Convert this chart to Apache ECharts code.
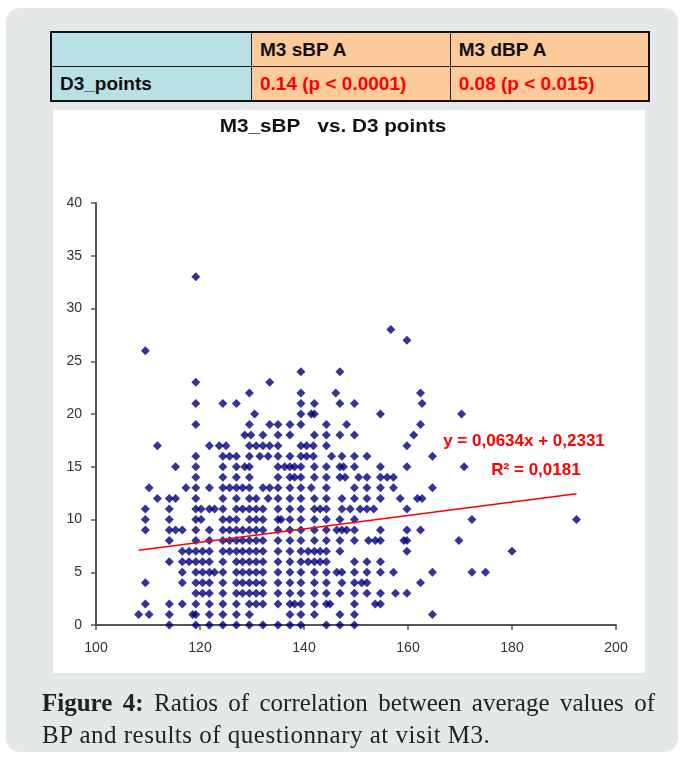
<!DOCTYPE html>
<html>
<head>
<meta charset="utf-8">
<script src="https://cdn.jsdelivr.net/npm/echarts@6/dist/echarts.min.js"></script>
<style>
  html, body { margin: 0; padding: 0; background: #fff; }
  body { width: 684px; height: 757px; position: relative; overflow: hidden; font-family: "Liberation Sans", Arial, sans-serif; }
  #panel { position: absolute; left: 6px; top: 8px; width: 672px; height: 744px; background: #e5e8e9; border-radius: 14px; }
  #tbl { position: absolute; left: 50px; top: 31px; width: 600px; border-collapse: collapse; border: 2px solid #111; table-layout: fixed; }
  #tbl td { border: 1.5px solid #222; font-weight: bold; font-size: 19px; padding: 0 0 0 8px; height: 33px; color: #111; white-space: nowrap; }
  #tbl .c1 { background: #b9e0e4; width: 191px; }
  #tbl .c2 { background: #fdca9a; }
  #tbl .red { color: #f00; }
  #box { position: absolute; left: 53px; top: 110px; width: 592px; height: 563px; background: #fff; }
  #chart { position: absolute; left: 0; top: 0; width: 684px; height: 757px; }
  .cap { position: absolute; left: 42px; width: 613px; font-family: "Liberation Serif", serif; font-size: 25px; letter-spacing: 0.5px; line-height: 32px; color: #222; white-space: nowrap; }
  #cap1 { top: 687px; text-align: justify; text-align-last: justify; letter-spacing: 0; }
  #cap2 { top: 719px; }
</style>
</head>
<body>
<div id="panel"></div>
<table id="tbl">
  <tr><td class="c1"></td><td class="c2">M3 sBP A</td><td class="c2">M3 dBP A</td></tr>
  <tr><td class="c1">D3_points</td><td class="c2 red">0.14 (p &lt; 0.0001)</td><td class="c2 red">0.08 (p &lt; 0.015)</td></tr>
</table>
<div id="box"></div>
<div id="chart"></div>
<div class="cap" id="cap1"><b>Figure 4:</b> Ratios of correlation between average values of</div>
<div class="cap" id="cap2">BP and results of questionnary at visit M3.</div>
<script>
var d3Rows = [33, 28, 27, 26, 24, 23, 22, 21, 20, 19, 18, 17, 16, 15, 14, 13, 12, 11, 10, 9, 8, 7, 6, 5, 4, 3, 2, 1, 0];
var sbpRows = [
    [119.2],
    [156.7],
    [159.8],
    [109.5],
    [139.4, 146.9],
    [119.2, 133.4],
    [129.5, 139.4, 146.1, 162.4],
    [119.2, 124.4, 127, 139.4, 142, 146.9, 149.7, 162.7],
    [130.5, 139.4, 141.4, 142, 154.7, 170.3],
    [119.2, 129.5, 133.4, 135, 137.3, 139.4, 144.3, 148.2, 162.4],
    [128.6, 129.8, 132.1, 135, 137.3, 142, 144.3, 146.9, 149.7, 161.1],
    [111.8, 121.8, 123.7, 125, 129.5, 130.8, 132.1, 133.4, 135, 139.4, 140.5, 141.8, 144.3, 159.8],
    [119.2, 124.4, 125.7, 127, 129.5, 131.5, 133.1, 135, 137.3, 139.4, 140.5, 141.8, 145.3, 147.3, 149.7, 152.1, 164.7],
    [115.3, 119.2, 124.4, 127, 128.6, 129.5, 135, 136.3, 137.3, 138.2, 139.4, 142, 144.3, 146.9, 147.6, 149.7, 154.7, 159.8, 170.8],
    [119.2, 124.4, 127, 129.5, 135, 137.3, 138.2, 139.4, 142, 144.3, 146.9, 147.9, 150.5, 152.1, 154.7, 156, 157.2],
    [110.2, 117.3, 119.2, 121.8, 124.4, 125.7, 127, 128.2, 129.5, 132.1, 133.4, 135, 137.3, 139.4, 141.4, 144.3, 149.7, 152.1, 154.7, 157.2, 164.7],
    [111.8, 114.1, 115.3, 119.2, 124.4, 127, 129.5, 130.8, 133.1, 135, 137.3, 139.4, 142, 144.3, 147.3, 149.7, 152.1, 154.7, 158.5, 161.8, 162.7],
    [109.5, 114.1, 119.2, 120.2, 121.8, 122.8, 124.4, 127, 128.2, 129.5, 130.8, 132.1, 135, 137.3, 139.4, 142, 143.1, 144.3, 147.3, 148.9, 150.8, 152.1, 153.4, 159.8],
    [109.5, 114.1, 119.2, 120.2, 124.4, 125.7, 127, 129.5, 130.8, 132.1, 135, 135.6, 137.3, 139.4, 142, 144.3, 146.9, 149.7, 172.3, 192.4],
    [109.5, 114.1, 115.3, 116.6, 119.2, 121.8, 124.4, 125.7, 127, 128.2, 129.5, 130.8, 132.1, 135, 137.3, 139.4, 142, 144.3, 146.3, 147.3, 148.2, 149.7, 154.7, 159.8, 162.4],
    [114.1, 119.2, 121.8, 124.4, 125.7, 127, 128.2, 129.5, 130.8, 132.1, 135, 137.3, 139.4, 142, 144.3, 146.9, 149.7, 152.4, 153.7, 154.7, 159.2, 159.8, 169.8],
    [116.6, 117.9, 119.2, 120.5, 121.8, 124.4, 125.7, 127, 128.2, 129.5, 130.8, 132.1, 135, 137.3, 139.4, 140.8, 142, 143.1, 144.3, 146.9, 159.8, 180],
    [114.1, 116.6, 117.9, 119.2, 120.5, 121.8, 124.4, 127, 128.2, 129.5, 130.8, 132.1, 135, 137.3, 139.4, 140.8, 142, 143.1, 144.3, 149.7, 152.1, 154.7],
    [116.6, 119.2, 120.5, 121.8, 122.8, 124.4, 127, 128.2, 129.5, 130.8, 132.1, 135, 137.3, 139.4, 142, 144.3, 146.3, 147.3, 149.7, 152.1, 154.7, 157.2, 164.7, 172.3, 174.9],
    [109.5, 116.6, 119.2, 120.5, 121.8, 124.4, 127, 128.2, 129.5, 130.8, 132.1, 135, 137.3, 139.4, 142, 144.3, 147.3, 149.7, 151.1, 152.1, 162.4],
    [119.2, 120.5, 121.8, 124.4, 127, 128.2, 129.5, 130.8, 132.1, 135, 137.3, 139.4, 142, 144.3, 146.9, 149.7, 152.1, 154.7, 157.6, 159.8],
    [109.5, 114.1, 116.6, 119.2, 121.8, 124.4, 127, 129.5, 130.8, 132.1, 135, 137.3, 138.2, 139.4, 142, 144.3, 145, 149.7, 153.7, 154.7],
    [108.2, 110.2, 114.1, 118.6, 119.2, 121.8, 124.4, 127, 129.5, 137.3, 139.4, 142, 146.9, 149.7, 164.7],
    [114.1, 119.2, 121.8, 124.4, 127, 129.5, 132.1, 135, 137.3, 139.4, 144.3, 146.9, 149.7]
];

//tick labels and the trend line printed on the chart
var xTicks = [100, 120, 140, 160, 180, 200];
var yTicks = [0, 5, 10, 15, 20, 25, 30, 35, 40];
var trendSlope = 0.0634;
var trendIntercept = 0.2331;
var trendLabel = ['y = 0,0634x + 0,2331', 'R² = 0,0181'];
var chartTitle = 'M3_sBP   vs. D3 points';

var points = [];
var xMin = Infinity, xMax = -Infinity;
for (var i = 0; i < d3Rows.length; i++) {
    for (var j = 0; j < sbpRows[i].length; j++) {
        points.push([sbpRows[i][j], d3Rows[i]]);
        xMin = Math.min(xMin, sbpRows[i][j]);
        xMax = Math.max(xMax, sbpRows[i][j]);
    }
}
var trend = [
    [xMin, trendSlope * xMin + trendIntercept],
    [xMax, trendSlope * xMax + trendIntercept]
];

var axisCommon = {
    type: 'value',
    splitLine: { show: false },
    axisLine: { show: true, onZero: false, lineStyle: { color: '#555', width: 2 } },
    axisTick: { show: true, length: 5, lineStyle: { color: '#555', width: 1.5 } },
    axisLabel: { color: '#333', fontSize: 14, fontFamily: 'Liberation Sans' }
};

var chart = echarts.init(document.getElementById('chart'), null, { renderer: 'canvas' });
chart.setOption({
    animation: false,
    backgroundColor: 'transparent',
    grid: { left: 96, right: 68, top: 203, bottom: 132 },
    xAxis: echarts.util.merge({
        min: xTicks[0], max: xTicks[xTicks.length - 1], interval: 20,
        axisLabel: { margin: 16 }
    }, axisCommon),
    yAxis: echarts.util.merge({
        min: yTicks[0], max: yTicks[yTicks.length - 1], interval: 5,
        axisLabel: { margin: 14 }
    }, axisCommon),
    graphic: [
        {
            type: 'text', x: 333, y: 127, scaleX: 1.15,
            style: { text: chartTitle, font: 'bold 18px "Liberation Sans"', fill: '#111', textAlign: 'center', textVerticalAlign: 'middle' }
        },
        {
            type: 'text', x: 524, y: 441,
            style: { text: trendLabel[0], font: 'bold 17px "Liberation Sans"', fill: '#f00', textAlign: 'center', textVerticalAlign: 'middle' }
        },
        {
            type: 'text', x: 536, y: 470,
            style: { text: trendLabel[1], font: 'bold 17px "Liberation Sans"', fill: '#f00', textAlign: 'center', textVerticalAlign: 'middle' }
        }
    ],
    series: [
        {
            type: 'scatter',
            data: points,
            symbol: 'diamond',
            symbolSize: 9,
            itemStyle: { color: '#000080' }
        },
        {
            type: 'line',
            data: trend,
            showSymbol: false,
            lineStyle: { color: '#ff0000', width: 1.5 },
            z: 5
        }
    ]
});
</script>
</body>
</html>
